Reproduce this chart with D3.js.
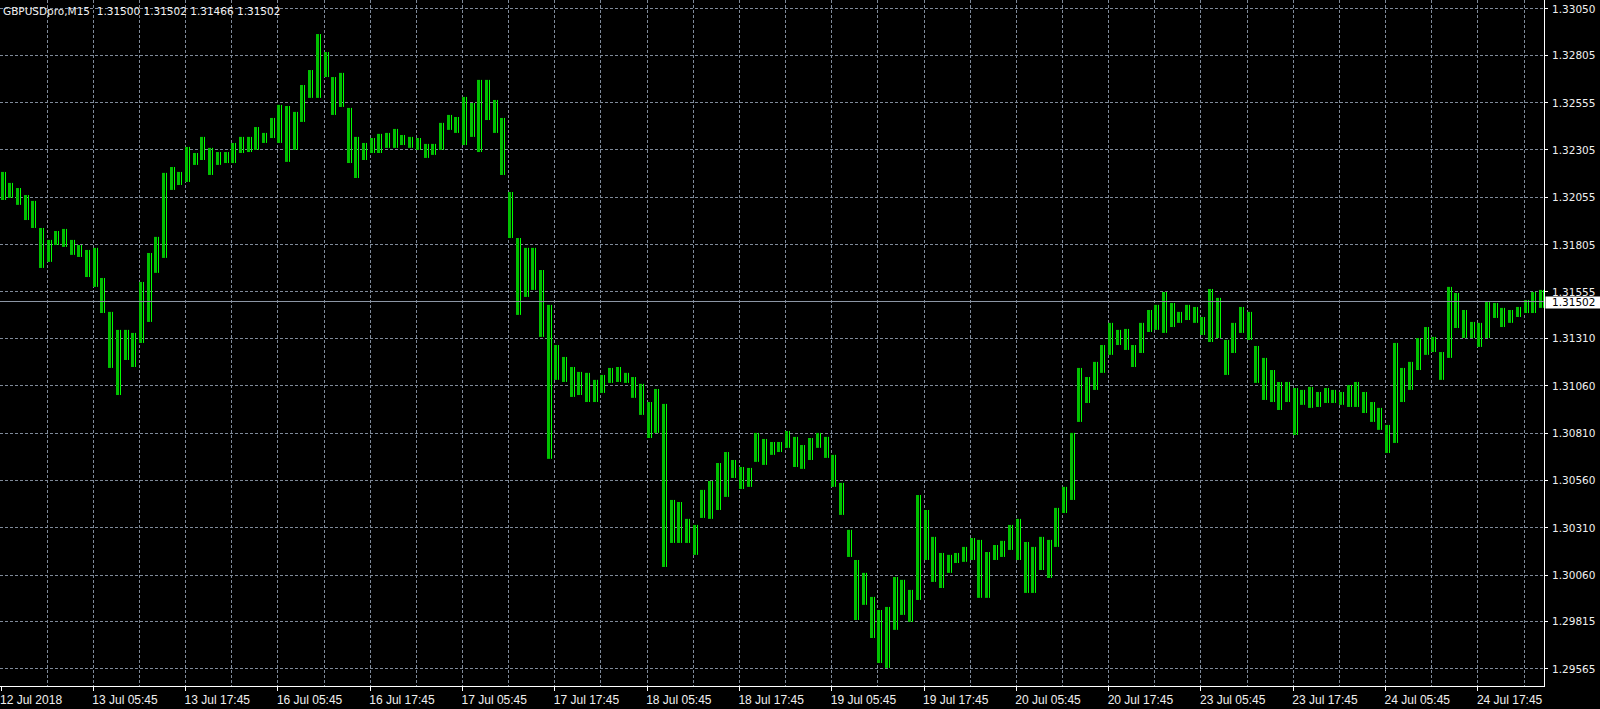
<!DOCTYPE html>
<html>
<head>
<meta charset="utf-8">
<script src="https://cdn.jsdelivr.net/npm/d3@7"></script>
<style>
  html, body { margin: 0; padding: 0; background: #000; overflow: hidden; }
  svg { display: block; }
</style>
</head>
<body>
<div id="chart"></div>
<script>

    var symbolName = "GBPUSDpro,M15";
    var lastQuote = ["1.31500", "1.31502", "1.31466", "1.31502"];
    var bidPrice = 1.31502;

    var priceTicks = [1.33050, 1.32805, 1.32555, 1.32305, 1.32055, 1.31805, 1.31555, 1.31310,
                      1.31060, 1.30810, 1.30560, 1.30310, 1.30060, 1.29815, 1.29565];

    var timeLabels = ["12 Jul 2018", "13 Jul 05:45", "13 Jul 17:45", "16 Jul 05:45", "16 Jul 17:45",
                      "17 Jul 05:45", "17 Jul 17:45", "18 Jul 05:45", "18 Jul 17:45", "19 Jul 05:45",
                      "19 Jul 17:45", "20 Jul 05:45", "20 Jul 17:45", "23 Jul 05:45", "23 Jul 17:45",
                      "24 Jul 05:45", "24 Jul 17:45"];

    // hourly highs / lows (one value per 4 bars)
    var hourHigh = [
      1.32186,1.32128,1.32101,1.32064,1.32033,1.31890,1.31827,1.31874,1.31885,1.31827,
      1.31800,1.31774,1.31785,1.31626,1.31447,1.31352,1.31352,1.31336,1.31605,1.31758,
      1.31843,1.32181,1.32212,1.32186,1.32318,1.32286,1.32371,1.32313,1.32291,1.32291,
      1.32339,1.32371,1.32371,1.32423,1.32392,1.32471,1.32540,1.32534,1.32503,1.32645,
      1.32724,1.32914,1.32819,1.32687,1.32709,1.32524,1.32371,1.32339,1.32365,1.32387,
      1.32392,1.32413,1.32381,1.32371,1.32365,1.32334,1.32334,1.32445,1.32487,1.32476,
      1.32582,1.32550,1.32672,1.32672,1.32566,1.32471,1.32080,1.31837,1.31785,1.31785,
      1.31668,1.31484,1.31272,1.31209,1.31156,1.31130,1.31125,1.31088,1.31114,1.31151,
      1.31156,1.31125,1.31103,1.31067,1.30971,1.31040,1.30961,1.30454,1.30443,1.30354,
      1.30322,1.30507,1.30554,1.30649,1.30707,1.30665,1.30628,1.30623,1.30808,1.30776,
      1.30760,1.30760,1.30818,1.30787,1.30744,1.30781,1.30808,1.30787,1.30692,1.30544,
      1.30296,1.30137,1.30069,1.29942,1.29873,1.29889,1.30047,1.30032,1.29979,1.30480,
      1.30401,1.30259,1.30174,1.30164,1.30174,1.30206,1.30253,1.30243,1.30179,1.30216,
      1.30238,1.30322,1.30354,1.30232,1.30206,1.30259,1.30243,1.30412,1.30523,1.30808,
      1.31151,1.31103,1.31183,1.31272,1.31389,1.31352,1.31357,1.31272,1.31389,1.31457,
      1.31484,1.31552,1.31494,1.31447,1.31484,1.31473,1.31420,1.31568,1.31521,1.31299,
      1.31389,1.31473,1.31447,1.31267,1.31204,1.31140,1.31077,1.31077,1.31045,1.31035,
      1.31051,1.31024,1.31045,1.31035,1.31024,1.31061,1.31077,1.31024,1.30971,1.30940,
      1.30850,1.31283,1.31151,1.31183,1.31309,1.31367,1.31315,1.31235,1.31579,1.31547,
      1.31457,1.31394,1.31389,1.31499,1.31494,1.31468,1.31457,1.31473,1.31510,1.31552,
      1.31563
    ];

    var hourLow = [
      1.32038,1.32049,1.32012,1.31932,1.31890,1.31679,1.31711,1.31800,1.31790,1.31748,
      1.31737,1.31631,1.31579,1.31441,1.31151,1.31008,1.31193,1.31156,1.31283,1.31394,
      1.31653,1.31732,1.32091,1.32117,1.32133,1.32223,1.32249,1.32170,1.32223,1.32233,
      1.32233,1.32286,1.32291,1.32302,1.32339,1.32365,1.32339,1.32239,1.32302,1.32450,
      1.32577,1.32577,1.32687,1.32487,1.32529,1.32233,1.32154,1.32249,1.32286,1.32286,
      1.32313,1.32313,1.32328,1.32313,1.32302,1.32260,1.32276,1.32302,1.32408,1.32392,
      1.32328,1.32371,1.32291,1.32460,1.32392,1.32170,1.31837,1.31431,1.31526,1.31563,
      1.31315,1.30671,1.31088,1.31077,1.30998,1.31008,1.30971,1.30971,1.31019,1.31072,
      1.31077,1.31072,1.30993,1.30903,1.30781,1.30808,1.30100,1.30227,1.30227,1.30227,
      1.30164,1.30359,1.30354,1.30401,1.30470,1.30570,1.30512,1.30523,1.30655,1.30639,
      1.30692,1.30707,1.30729,1.30628,1.30618,1.30665,1.30729,1.30676,1.30523,1.30375,
      1.30153,1.29820,1.29900,1.29725,1.29593,1.29567,1.29768,1.29847,1.29810,1.29926,
      1.30137,1.30021,1.29989,1.30069,1.30121,1.30127,1.30137,1.29937,1.29937,1.30137,
      1.30153,1.30190,1.30137,1.29963,1.29963,1.30084,1.30042,1.30206,1.30385,1.30454,
      1.30866,1.30966,1.31035,1.31125,1.31220,1.31272,1.31246,1.31156,1.31230,1.31341,
      1.31352,1.31336,1.31367,1.31389,1.31404,1.31389,1.31325,1.31288,1.31309,1.31114,
      1.31230,1.31336,1.31299,1.31072,1.30982,1.30971,1.30929,1.30971,1.30797,1.30956,
      1.30940,1.30945,1.30966,1.30966,1.30956,1.30945,1.30945,1.30913,1.30866,1.30824,
      1.30702,1.30755,1.30971,1.31035,1.31140,1.31220,1.31235,1.31088,1.31204,1.31362,
      1.31309,1.31309,1.31262,1.31309,1.31415,1.31367,1.31389,1.31420,1.31441,1.31441,
      1.31468
    ];

    //=========================================================================
    // Set Dimensions
    //=========================================================================
    var width = 1600,
        height = 709,
        plotRight = 1544,
        plotBottom = 687,
        barsPerHour = 4,
        barsPerLabel = 48,
        barsPerGrid = 24;

    var gridColor = "#7f8a99",
        barColor = "#00c000",
        wickColor = "#00ff00",
        textColor = "#f0f0f0";

    var svg = d3.select("#chart")
      .append("svg")
      .attr("width", width)
      .attr("height", height);

    svg.append("rect")
      .attr("width", width)
      .attr("height", height)
      .attr("fill", "#000");

    // M15 bar index -> x
    var x = d3.scaleLinear()
      .domain([0, barsPerLabel * (timeLabels.length - 1)])
      .range([0.5, 1477.4]);

    var y = d3.scaleLinear()
      .domain([priceTicks[priceTicks.length - 1], priceTicks[0]])
      .range([668.3, 8.3]);

    function crisp(v) { return Math.round(v) + 0.5; }

    //=========================================================================
    // Grid
    //=========================================================================
    var gGrid = svg.append("g")
      .attr("stroke", gridColor)
      .attr("stroke-width", 1)
      .attr("stroke-dasharray", "3,2");

    var gridIdx = d3.range(barsPerGrid, 2000, barsPerGrid).filter(function(i){ return x(i) < plotRight - 2; });

    gGrid.selectAll(".vgrid")
      .data(gridIdx)
      .enter()
      .append("line")
      .attr("class", "vgrid")
      .attr("x1", function(d){ return crisp(x(d)); })
      .attr("x2", function(d){ return crisp(x(d)); })
      .attr("y1", 0)
      .attr("y2", plotBottom);

    gGrid.selectAll(".hgrid")
      .data(priceTicks)
      .enter()
      .append("line")
      .attr("class", "hgrid")
      .attr("x1", 0)
      .attr("x2", plotRight)
      .attr("y1", function(d){ return crisp(y(d)); })
      .attr("y2", function(d){ return crisp(y(d)); });

    //=========================================================================
    // Title
    //=========================================================================
    svg.append("text")
      .attr("x", 3)
      .attr("y", 15)
      .style("white-space", "pre")
      .attr("font-family", "DejaVu Sans")
      .attr("font-size", "10.5px")
      .attr("fill", textColor)
      .text(symbolName + "  " + lastQuote.join(" "));

    //=========================================================================
    // Bars
    //=========================================================================
    svg.append("clipPath")
      .attr("id", "plot-clip")
      .append("rect")
      .attr("width", plotRight)
      .attr("height", plotBottom);

    var gBars = svg.append("g").attr("clip-path", "url(#plot-clip)");

    gBars.selectAll(".bar")
      .data(hourHigh)
      .enter()
      .append("rect")
      .attr("class", "bar")
      .attr("x", function(d, i){ return Math.round(x(i * barsPerHour)); })
      .attr("width", 3)
      .attr("y", function(d){ return y(d); })
      .attr("height", function(d, i){ return Math.max(1, y(hourLow[i]) - y(d)); })
      .attr("fill", barColor);

    gBars.selectAll(".wick")
      .data(hourHigh)
      .enter()
      .append("line")
      .attr("class", "wick")
      .attr("x1", function(d, i){ return Math.round(x(i * barsPerHour)) + 4.5; })
      .attr("x2", function(d, i){ return Math.round(x(i * barsPerHour)) + 4.5; })
      .attr("y1", function(d){ return y(d); })
      .attr("y2", function(d, i){ return y(hourLow[i]); })
      .attr("stroke", wickColor)
      .attr("stroke-width", 1);

    // bid line
    svg.append("line")
      .attr("x1", 0)
      .attr("x2", plotRight)
      .attr("y1", crisp(y(bidPrice)))
      .attr("y2", crisp(y(bidPrice)))
      .attr("stroke", "#8c96a5")
      .attr("stroke-width", 1);

    //=========================================================================
    // Axes
    //=========================================================================
    var gAxis = svg.append("g");

    gAxis.append("line")
      .attr("x1", plotRight + 0.5).attr("x2", plotRight + 0.5)
      .attr("y1", 0).attr("y2", plotBottom)
      .attr("stroke", "#fff");

    gAxis.append("line")
      .attr("x1", 0).attr("x2", plotRight + 1)
      .attr("y1", plotBottom - 0.5).attr("y2", plotBottom - 0.5)
      .attr("stroke", "#fff");

    gAxis.selectAll(".ptick")
      .data(priceTicks)
      .enter()
      .append("line")
      .attr("x1", plotRight)
      .attr("x2", plotRight + 4)
      .attr("y1", function(d){ return crisp(y(d)); })
      .attr("y2", function(d){ return crisp(y(d)); })
      .attr("stroke", "#fff");

    gAxis.selectAll(".plabel")
      .data(priceTicks)
      .enter()
      .append("text")
      .attr("x", 1552)
      .attr("y", function(d){ return y(d) + 4.5; })
      .attr("font-family", "DejaVu Sans")
      .attr("font-size", "10.5px")
      .attr("fill", textColor)
      .text(function(d){ return d3.format(".5f")(d); });

    // bid price box
    gAxis.append("rect")
      .attr("x", plotRight + 1.5)
      .attr("y", crisp(y(bidPrice)) - 5)
      .attr("width", width - plotRight - 1.5)
      .attr("height", 12)
      .attr("fill", "#fff");

    gAxis.append("text")
      .attr("x", 1552)
      .attr("y", crisp(y(bidPrice)) + 4.5)
      .attr("font-family", "DejaVu Sans")
      .attr("font-size", "10.5px")
      .attr("fill", "#000")
      .text(d3.format(".5f")(bidPrice));

    gAxis.selectAll(".ttick")
      .data(timeLabels)
      .enter()
      .append("line")
      .attr("x1", function(d, i){ return crisp(x(i * barsPerLabel)); })
      .attr("x2", function(d, i){ return crisp(x(i * barsPerLabel)); })
      .attr("y1", plotBottom)
      .attr("y2", plotBottom + 4)
      .attr("stroke", "#fff");

    gAxis.selectAll(".tlabel")
      .data(timeLabels)
      .enter()
      .append("text")
      .attr("class", "tlabel")
      .attr("x", function(d, i){ return x(i * barsPerLabel) - 0.5; })
      .attr("y", 703.5)
      .attr("font-family", "Liberation Sans")
      .attr("font-size", "12px")
      .attr("fill", textColor)
      .text(function(d){ return d; });

</script>
</body>
</html>
